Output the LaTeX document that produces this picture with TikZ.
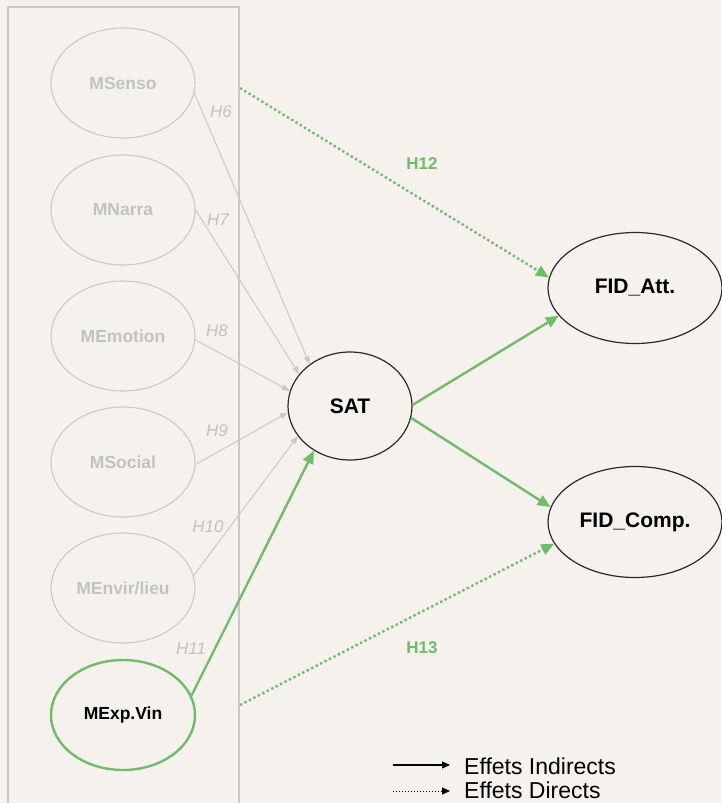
\documentclass[tikz,border=0pt]{standalone}
\usepackage{fontspec}
\setmainfont{Liberation Sans}
\usetikzlibrary{arrows.meta,shapes.geometric}
\definecolor{bgc}{HTML}{F5F1ED}
\definecolor{fade}{HTML}{C9C9C9}
\definecolor{fadetext}{HTML}{C2C2C2}
\definecolor{grn}{HTML}{6DBE67}
\definecolor{ink}{HTML}{2A2A2A}
\begin{document}
\begin{tikzpicture}[x=1pt,y=-1pt,
  faded/.style={ellipse, draw=fade, line width=1.1pt, minimum width=144pt,
    minimum height=110pt, inner sep=0pt, text=fadetext,
    font=\fontsize{17.5}{20}\selectfont\bfseries},
  keynode/.style={ellipse, draw=ink, line width=1.2pt, inner sep=0pt,
    font=\fontsize{21}{24}\selectfont\bfseries},
  fadearrow/.style={draw=fade, line width=1pt,
    -{Triangle[length=8pt,width=6pt]}},
  grnarrow/.style={draw=grn, line width=2.4pt,
    -{Triangle[length=13pt,width=11pt]}},
  grndot/.style={draw=grn, line width=2.4pt, dash pattern=on 2.4pt off 2.6pt,
    -{Triangle[length=13pt,width=11pt]}},
  hlab/.style={text=fadetext, font=\fontsize{17}{20}\selectfont\itshape},
  glab/.style={text=grn, font=\fontsize{17}{20}\selectfont\bfseries},
  legtext/.style={anchor=base west, inner sep=0pt,
    font=\fontsize{23}{26}\selectfont, text=black}
]
% page and background
\fill[bgc] (0,0) rectangle (721,803);
\useasboundingbox (0,0) rectangle (721,803);

% frame around the motivation constructs
\draw[fade, line width=1.5pt] (8,7) rectangle (239,830);

% motivation constructs
\node[faded] (senso)   at (123,83)  {MSenso};
\node[faded] (narra)   at (123,210) {MNarra};
\node[faded] (emotion) at (123,336) {MEmotion};
\node[faded] (social)  at (123,462) {MSocial};
\node[faded] (envir)   at (123,588) {MEnvir/lieu};
\node[ellipse, draw=grn, line width=2.4pt, minimum width=144pt, minimum height=110pt,
  inner sep=0pt, font=\fontsize{17.5}{20}\selectfont\bfseries] (vin) at (123,715) {MExp.Vin};

% satisfaction and loyalty
\node[keynode, minimum width=124pt, minimum height=108pt] (sat) at (350,406) {SAT};
\node[keynode, minimum width=174pt, minimum height=111pt] (att) at (635,288) {FID\_Att.};
\node[keynode, minimum width=174pt, minimum height=111pt] (comp) at (635,522) {FID\_Comp.};

% indirect paths through SAT
\draw[fadearrow] (senso.-8)  -- (sat.134);
\draw[fadearrow] (narra.0)   -- (sat.148);
\draw[fadearrow] (emotion.-3) -- (sat.166);
\draw[fadearrow] (social.-2) -- (sat.186);
\draw[fadearrow] (envir.10)  -- (sat.210);
\draw[grnarrow]  (vin.16)    -- (sat.231);
\draw[grnarrow]  (sat.1)     -- (att.200);
\draw[grnarrow]  (sat.-11)   -- (comp.170);

% direct paths from the frame to loyalty
\coordinate (dtop) at (240,88);
\coordinate (dbot) at (240,705);
\draw[grndot] (dtop) -- (att.173);
\draw[grndot] (dbot) -- (comp.195);

% hypothesis labels
\node[hlab] (h6)  at (221,112) {H6};
\node[hlab] (h7)  at (218,220) {H7};
\node[hlab] (h8)  at (217,331) {H8};
\node[hlab] (h9)  at (217,431) {H9};
\node[hlab] (h10) at (208,527) {H10};
\node[hlab] (h11) at (191,649) {H11};
\node[glab] (h12) at (422,164) {H12};
\node[glab] (h13) at (422,648) {H13};

% legend
\coordinate (l1a) at (393,765);
\coordinate (l1b) at (450,765);
\coordinate (l2a) at (393,791);
\coordinate (l2b) at (450,791);
\draw[black, line width=1.1pt, -{Triangle[length=8pt,width=7pt]}] (l1a) -- (l1b);
\draw[black, line width=0.9pt, dash pattern=on 1pt off 2pt,
  -{Triangle[length=8pt,width=7pt]}] (l2a) -- (l2b);
\node[legtext] (leg1) at (464,774) {Effets Indirects};
\node[legtext] (leg2) at (464,798) {Effets Directs};
\end{tikzpicture}
\end{document}
